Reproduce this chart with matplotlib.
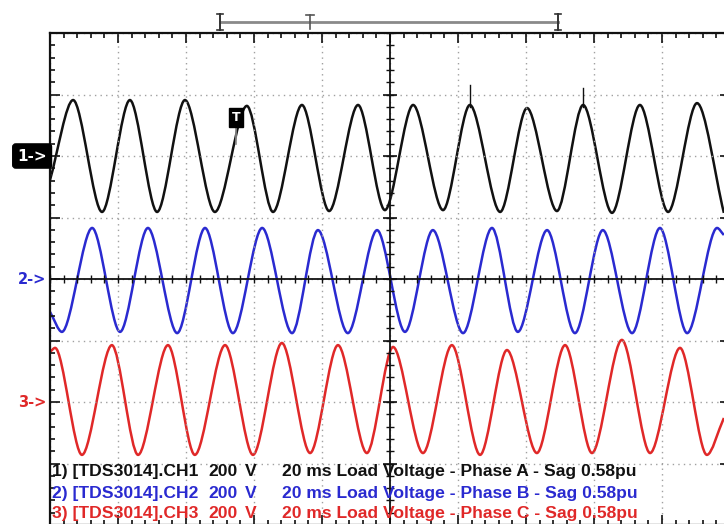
import numpy as np
import matplotlib
matplotlib.use('Agg')
import matplotlib.pyplot as plt
from matplotlib.path import Path
from matplotlib.patches import PathPatch

# peaks / troughs: time (ms), volts
ch1_t = [0.0, 6.8, 15.3, 23.5, 31.5, 39.7, 48.5, 57.9, 65.6, 74.1, 82.1, 90.6, 98.5,
         106.8, 115.6, 123.5, 132.4, 140.3, 149.1, 156.8, 165.3, 173.5, 181.8, 190.3, 198.2]
ch1_v = [-78, 182, -182, 182, -182, 182, -182, 163, -182, 166, -179, 166, -176,
         166, -176, 166, -182, 156, -179, 166, -185, 166, -182, 172, -185]

ch2_t = [0.0, 3.5, 12.4, 20.6, 28.8, 37.4, 45.6, 53.8, 62.4, 71.2, 78.8, 87.6, 96.2,
         104.4, 112.6, 121.5, 130.0, 137.6, 146.2, 154.4, 162.6, 171.2, 179.4, 187.4, 196.2, 198.2]
ch2_v = [-107, -172, 166, -172, 166, -176, 166, -176, 166, -176, 159, -176, 159,
         -172, 159, -176, 166, -172, 159, -176, 159, -176, 166, -176, 166, 143]

ch3_t = [0.0, 1.5, 9.4, 18.2, 25.9, 34.7, 42.6, 51.5, 59.7, 68.2, 76.5, 84.7, 93.2,
         100.9, 109.7, 118.2, 126.5, 134.4, 143.2, 151.5, 159.4, 168.2, 176.5, 185.3, 193.2, 198.2]
ch3_v = [163, 176, -172, 185, -172, 185, -172, 185, -172, 192, -166, 185, -166,
         179, -166, 185, -172, 169, -166, 185, -166, 202, -166, 176, -172, -52]

# short glitches on channel 1 (time, top volts)
spike_t = [123.5, 156.8]
spike_v = [231, 221]

labels = ['1) [TDS3014].CH1', '2) [TDS3014].CH2', '3) [TDS3014].CH3']
scales = ['200', '200', '200']
titles = ['20 ms Load Voltage - Phase A - Sag 0.58pu',
          '20 ms Load Voltage - Phase B - Sag 0.58pu',
          '20 ms Load Voltage - Phase C - Sag 0.58pu']

VDIV = 200.0
offsets = [2.0, 0.0, -2.0]
colors = ['#111111', '#2a2ad0', '#e02828']


def trace_path(t, v, off, k=0.3):
    t = np.asarray(t, float)
    y = off + np.asarray(v, float) / VDIV
    n = len(t)
    verts = [(t[0], y[0])]
    codes = [Path.MOVETO]
    for i in range(n - 1):
        dx = t[i + 1] - t[i]
        if i == 0:
            c1 = (t[i] + dx / 3, y[i] + (y[i + 1] - y[i]) / 3)
        else:
            c1 = (t[i] + k * dx, y[i])
        if i + 1 == n - 1:
            c2 = (t[i + 1] - dx / 3, y[i + 1] - (y[i + 1] - y[i]) / 3)
        else:
            c2 = (t[i + 1] - k * dx, y[i + 1])
        verts += [c1, c2, (t[i + 1], y[i + 1])]
        codes += [Path.CURVE4] * 3
    return Path(verts, codes)


fig = plt.figure(figsize=(7.24, 5.24), dpi=100)
ax = fig.add_axes([50 / 724, -1 / 524, 680 / 724, 492 / 524])
ax.set_xlim(0, 200)
ax.set_ylim(-4, 4)

ax.set_xticks(np.arange(0, 201, 20))
ax.set_yticks(np.arange(-4, 5, 1))
ax.set_xticks(np.arange(0, 201, 4), minor=True)
ax.set_yticks(np.arange(-4, 4.01, 0.2), minor=True)
ax.tick_params(which='both', direction='in', top=True, right=True,
               labelbottom=False, labelleft=False, color='#111111', width=1.2)
ax.tick_params(which='major', length=7)
ax.tick_params(which='minor', length=3.5)
for s in ax.spines.values():
    s.set_linewidth(1.6)
    s.set_color('#111111')
ax.grid(which='major', color='#a0a0a0', linestyle=(0, (1, 3)), linewidth=1.0)

# centre cross with its own ticks
ax.axhline(0, color='#111111', lw=1.3)
ax.axvline(100, color='#111111', lw=1.3)
ax.vlines(np.arange(0, 201, 4), -0.07, 0.07, color='#111111', lw=1.0)
ax.hlines(np.arange(-4, 4.01, 0.2), 98.8, 101.2, color='#111111', lw=1.0)
ax.hlines(np.arange(-4, 4.01, 1), 98.0, 102.0, color='#111111', lw=1.2)

for t, v, off, c in zip([ch1_t, ch2_t, ch3_t], [ch1_v, ch2_v, ch3_v], offsets, colors):
    ax.add_patch(PathPatch(trace_path(t, v, off), fill=False, edgecolor=c,
                           lw=1.8, joinstyle='round'))
for t, v in zip(spike_t, spike_v):
    ax.plot([t, t], [offsets[0] + 0.8, offsets[0] + v / VDIV], color=colors[0], lw=1.0)

# trigger marker
ax.plot([54.7, 54.7], [2.2, 2.5], color='#888888', lw=1.2)
ax.text(54.7, 2.62, 'T', color='white', fontsize=9, fontweight='bold', ha='center',
        va='center', family='DejaVu Sans',
        bbox=dict(boxstyle='square,pad=0.25', fc='black', ec='black'))

# channel ground markers
ax.text(-0.9, offsets[0], '1->', color='white', fontsize=11, fontweight='bold',
        ha='right', va='center', clip_on=False, family='DejaVu Sans',
        bbox=dict(boxstyle='round,pad=0.3,rounding_size=0.2', fc='black', ec='black'))
ax.text(-1.0, offsets[1], '2->', color=colors[1], fontsize=10.5, fontweight='bold',
        ha='right', va='center', clip_on=False)
ax.text(-1.0, offsets[2], '3->', color=colors[2], fontsize=10.5, fontweight='bold',
        ha='right', va='center', clip_on=False)

# cursor bar above the screen
ybar = 4.18
ax.plot([50, 149.4], [ybar, ybar], color='#8a8a8a', lw=2.0, clip_on=False)
for xc in [50, 149.4]:
    ax.plot([xc, xc], [ybar - 0.13, ybar + 0.13], color='#333333', lw=1.4, clip_on=False)
    ax.plot([xc - 0.8, xc + 0.8], [ybar + 0.13, ybar + 0.13], color='#333333', lw=1.2, clip_on=False)
    ax.plot([xc - 0.8, xc + 0.8], [ybar - 0.13, ybar - 0.13], color='#333333', lw=1.2, clip_on=False)
ax.plot([76.5, 76.5], [ybar - 0.12, ybar + 0.12], color='#555555', lw=1.2, clip_on=False)
ax.plot([75.3, 77.7], [ybar + 0.12, ybar + 0.12], color='#555555', lw=1.2, clip_on=False)

# channel readout
ys = [-3.13, -3.48, -3.81]
for i in range(3):
    kw = dict(color=colors[i], fontsize=12.6, fontweight='bold', va='center',
              family='Liberation Sans')
    ax.text(0.6, ys[i], labels[i], **kw)
    ax.text(46.6, ys[i], scales[i], **kw)
    ax.text(57.4, ys[i], 'V', **kw)
    ax.text(68.2, ys[i], titles[i], **kw)

fig.savefig('out.png', dpi=100)
